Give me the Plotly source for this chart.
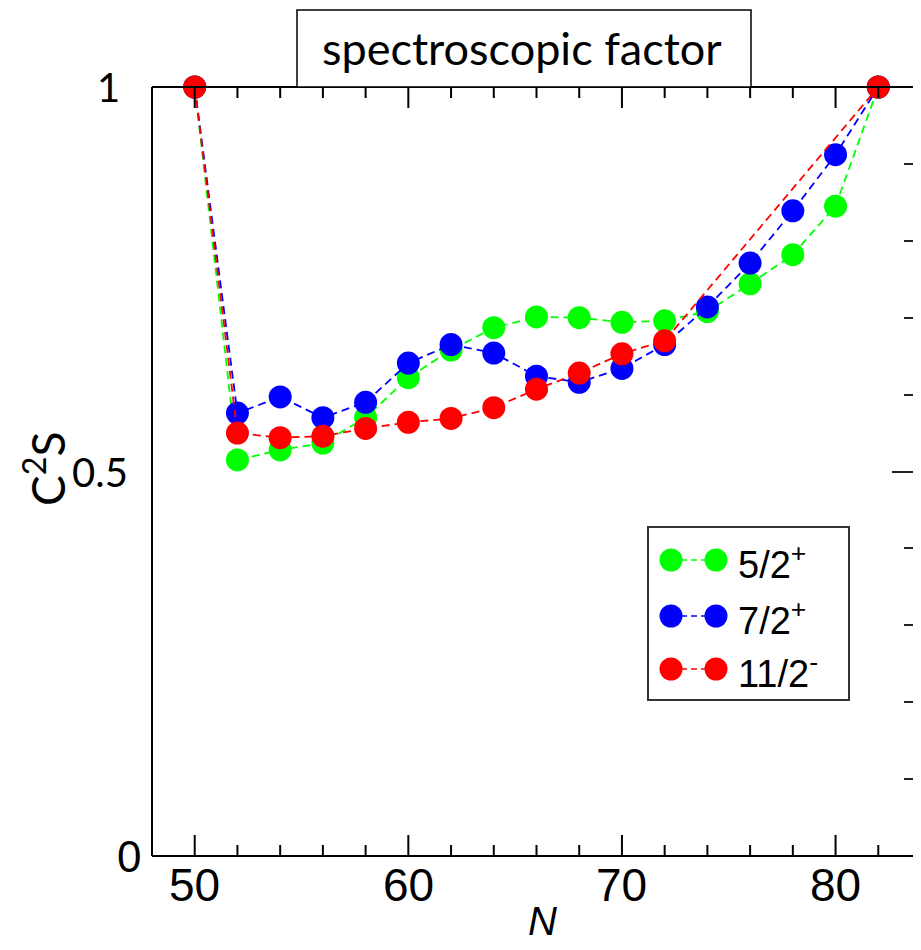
import plotly.graph_objects as go

# ---- data ----
N_full = [50, 52, 54, 56, 58, 60, 62, 64, 66, 68, 70, 72, 74, 76, 78, 80, 82]
s_52p = [1.0, 0.515, 0.528, 0.537, 0.570, 0.622, 0.658, 0.687, 0.701, 0.700,
         0.694, 0.696, 0.708, 0.744, 0.782, 0.845, 1.0]
s_72p = [1.0, 0.576, 0.597, 0.570, 0.590, 0.641, 0.665, 0.654, 0.624, 0.616,
         0.634, 0.665, 0.714, 0.771, 0.839, 0.912, 1.0]
N_red = [50, 52, 54, 56, 58, 60, 62, 64, 66, 68, 70, 72, 82]
s_112m = [1.0, 0.550, 0.544, 0.546, 0.556, 0.564, 0.569, 0.583, 0.607, 0.628,
          0.653, 0.670, 1.0]

series_names = ["5/2<sup>+</sup>", "7/2<sup>+</sup>", "11/2<sup>-</sup>"]
series_colors = ["#00FF00", "#0000FF", "#FF0000"]
x_major_ticks = [50, 60, 70, 80]
x_ticklabels = ["50", "60", "70", "80"]
x_minor_ticks = [52, 54, 56, 58, 62, 64, 66, 68, 72, 74, 76, 78, 82]
y_tickvals = [0, 0.5, 1]
y_ticklabels = ["0", "0.5", "1"]

OFF = 8                      # page body margin offsets the canvas by 8 px
W, H = 921 - 2 * OFF, 950 - 2 * OFF
SL, ST = 152, 87             # plot-area top-left on screen
PH = 769
PW = W + OFF - SL            # plot runs to the right edge of the canvas
PX_PER_N = 769 / 36.0
L, T = SL - OFF, ST - OFF
R = 0
B = H - T - PH
x_range = [48, 48 + PW / PX_PER_N]


def px_x(p):
    return (p - SL) / PW


def px_y(p):
    return (ST + PH - p) / PH


fig = go.Figure()
for xs, ys, nm, col in [(N_full, s_52p, series_names[0], series_colors[0]),
                        (N_full, s_72p, series_names[1], series_colors[1]),
                        (N_red, s_112m, series_names[2], series_colors[2])]:
    fig.add_trace(go.Scatter(
        x=xs, y=ys, mode="lines+markers", name=nm,
        line=dict(color=col, width=1.8, dash="8px,5px"),
        marker=dict(color=col, size=23, line=dict(width=0)),
        cliponaxis=False, showlegend=False))

fig.update_layout(
    width=W, height=H,
    margin=dict(l=L, r=R, t=T, b=B, pad=0, autoexpand=False),
    plot_bgcolor="white", paper_bgcolor="white",
    showlegend=False,
    xaxis=dict(range=x_range, ticks="", showticklabels=False, showline=False,
               showgrid=False, zeroline=False, automargin=False),
    yaxis=dict(range=[0, 1], side="right", tickmode="linear", tick0=0, dtick=0.5,
               ticks="inside", ticklen=21, tickwidth=2, tickcolor="#222",
               showticklabels=False, showline=False, showgrid=False,
               zeroline=False, automargin=False,
               minor=dict(dtick=0.1, tick0=0, ticks="inside", ticklen=9,
                          tickwidth=2, tickcolor="#222", showgrid=False)),
)

shapes = []
annotations = []

# frame lines (left, bottom, top)
for x0, x1, y0, y1 in [(0, 0, 0, 1), (0, 1, 0, 0), (0, 1, 1, 1)]:
    shapes.append(dict(type="line", xref="paper", yref="paper", x0=x0, x1=x1,
                       y0=y0, y1=y1, line=dict(color="black", width=2)))

# x-axis ticks (bottom pointing up, top pointing down), placed on the x scale
for ticks, ln in [(x_major_ticks, 21), (x_minor_ticks, 11)]:
    for v in ticks:
        for ya, yb in [(0, ln / PH), (1, 1 - ln / PH)]:
            shapes.append(dict(type="line", xref="x", yref="paper", x0=v, x1=v,
                               y0=ya, y1=yb, layer="above",
                               line=dict(color="black", width=2)))

# x tick labels
for v, t in zip(x_major_ticks, x_ticklabels):
    annotations.append(dict(xref="x", yref="paper", x=v, y=px_y(885), text=t,
                            showarrow=False, xanchor="center", yanchor="middle",
                            font=dict(family="Liberation Sans", size=46, color="black")))

# y tick labels (left side)
y_label_right = [143, 130, 122]
y_label_fonts = [dict(family="Liberation Sans", size=44, color="black"),
                 dict(family="Lato, Liberation Sans", size=40, color="black"),
                 dict(family="Lato, Liberation Sans", size=40, color="black")]
for v, t, xr, f in zip(y_tickvals, y_ticklabels, y_label_right, y_label_fonts):
    annotations.append(dict(xref="paper", yref="y", x=px_x(xr), y=v, text=t,
                            showarrow=False, xanchor="right", yanchor="middle",
                            font=f))

# title box
shapes.append(dict(type="rect", xref="paper", yref="paper",
                   x0=px_x(297), x1=px_x(751), y0=px_y(87), y1=px_y(10),
                   line=dict(color="black", width=1.5), fillcolor="white", layer="above"))
annotations.append(dict(xref="paper", yref="paper", x=px_x(522), y=px_y(48),
                        text="spectroscopic factor", showarrow=False,
                        xanchor="center", yanchor="middle",
                        font=dict(family="Lato, Open Sans", size=45, color="black")))

# axis titles
annotations.append(dict(xref="paper", yref="paper", x=px_x(44), y=px_y(469),
                        text="C<sup>2</sup>S", showarrow=False, textangle=-90,
                        xanchor="center", yanchor="middle",
                        font=dict(family="Lato, Open Sans", size=46, color="black")))
annotations.append(dict(xref="paper", yref="paper", x=px_x(542), y=px_y(921),
                        text="<i>N</i>", showarrow=False,
                        xanchor="center", yanchor="middle",
                        font=dict(family="Liberation Sans", size=40, color="black")))

# custom legend
shapes.append(dict(type="rect", xref="paper", yref="paper",
                   x0=px_x(648), x1=px_x(849), y0=px_y(700), y1=px_y(527),
                   line=dict(color="#333", width=2), fillcolor="white", layer="above"))
rows = [560, 616, 669]
r = 11.5
for nm, col, ry in zip(series_names, series_colors, rows):
    shapes.append(dict(type="line", xref="paper", yref="paper",
                       x0=px_x(671), x1=px_x(716), y0=px_y(ry), y1=px_y(ry),
                       line=dict(color=col, width=1.5, dash="6px,4px"), layer="above"))
    for cx in (671, 716):
        shapes.append(dict(type="circle", xref="paper", yref="paper",
                           x0=px_x(cx - r), x1=px_x(cx + r),
                           y0=px_y(ry + r), y1=px_y(ry - r),
                           line=dict(width=0), fillcolor=col, layer="above"))
    annotations.append(dict(xref="paper", yref="paper", x=px_x(736), y=px_y(ry + 2),
                            text=nm, showarrow=False, xanchor="left", yanchor="middle",
                            font=dict(family="Liberation Sans", size=38, color="black")))

fig.update_layout(shapes=shapes, annotations=annotations)
fig.write_html("out.html")
